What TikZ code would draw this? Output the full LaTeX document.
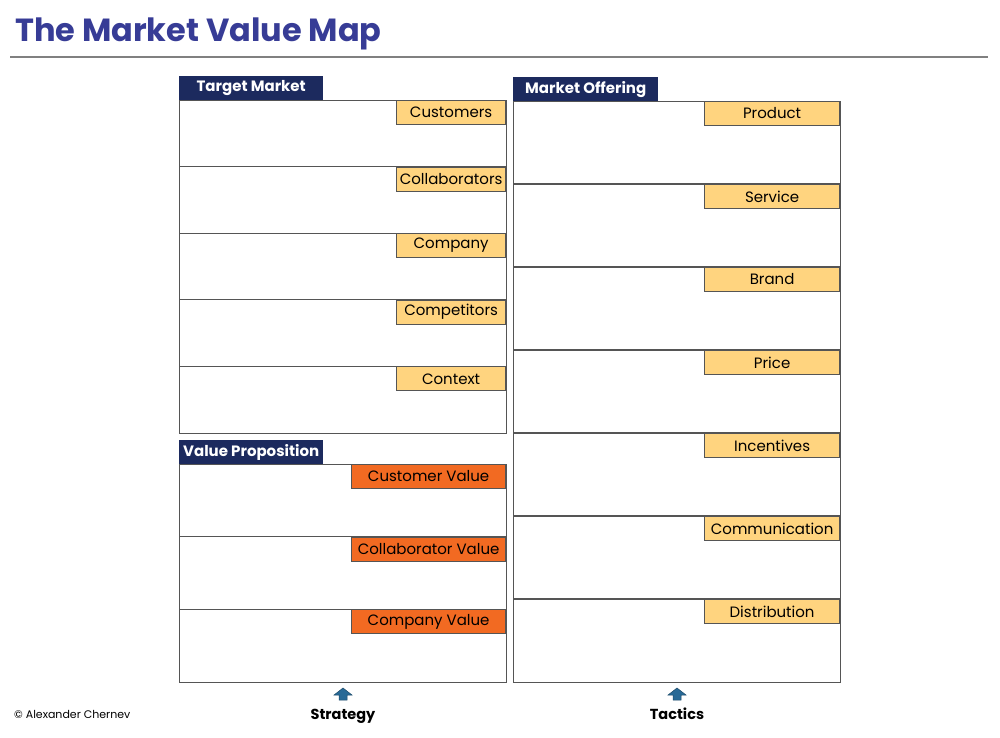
\documentclass[tikz,border=0pt]{standalone}
\usepackage{fontspec}
\setmainfont{Poppins}
\usetikzlibrary{positioning}

\definecolor{titleblue}{RGB}{55,60,150}
\definecolor{navy}{RGB}{28,42,94}
\definecolor{tagyellow}{RGB}{255,212,127}
\definecolor{tagorange}{RGB}{242,106,34}
\definecolor{arrowblue}{RGB}{40,105,150}
\definecolor{framegray}{RGB}{85,85,85}

\tikzset{
  header/.style={fill=navy, text=white, anchor=north west, inner sep=0pt,
    minimum width=144pt, minimum height=24pt, font=\bfseries\fontsize{15}{15}\selectfont},
  panel/.style={draw=framegray, line width=1.1pt, anchor=north west, inner sep=0pt},
  tag/.style={draw=framegray, line width=0.8pt, anchor=north east, inner sep=0pt,
    minimum height=24pt, font=\fontsize{15}{15}\selectfont},
  foot/.style={font=\bfseries\fontsize{14.5}{14.5}\selectfont, anchor=base},
}

\begin{document}
\begin{tikzpicture}[x=1pt,y=-1pt]
      \useasboundingbox (0,0) rectangle (1000,737);
      \pgfmathsetmacro{\tmrow}{333/5}
      \pgfmathsetmacro{\vprow}{218/3}
      \pgfmathsetmacro{\morow}{581/7}
      % Title and rule
      \node[anchor=base west, inner sep=0pt, text=titleblue,
        font=\bfseries\fontsize{32}{32}\selectfont] (title) at (15,41) {The Market Value Map};
      \draw[gray, line width=1.3pt] (10,57) -- (988,57);
      % Target market
      \node[header] (tmhead) at (179,76) {Target Market};
      \node[panel, minimum width=327pt, minimum height=333pt] (tm) at (179,100) {};
      \foreach \i in {1,...,4}
        \draw[framegray, line width=1.1pt] (179,{100+\i*\tmrow}) -- (506,{100+\i*\tmrow});
      \foreach \lbl [count=\i from 0] in {Customers,Collaborators,Company,Competitors,Context}
        \node[tag, fill=tagyellow, minimum width=109pt] (tm\i) at (506,{100+\i*\tmrow}) {\lbl};
      % Value proposition
      \node[header] (vphead) at (179,440) {Value Proposition};
      \node[panel, minimum width=327pt, minimum height=218pt] (vp) at (179,464) {};
      \foreach \i in {1,2}
        \draw[framegray, line width=1.1pt] (179,{464+\i*\vprow}) -- (506,{464+\i*\vprow});
      \foreach \lbl [count=\i from 0] in {Customer Value,Collaborator Value,Company Value}
        \node[tag, fill=tagorange, minimum width=154pt] (vp\i) at (506,{464+\i*\vprow}) {\lbl};
      % Market offering
      \node[header, minimum width=145pt] (mohead) at (513,77) {Market Offering};
      \node[panel, minimum width=327pt, minimum height=581pt] (mo) at (513,101) {};
      \foreach \i in {1,...,6}
        \draw[framegray, line width=1.1pt] (513,{101+\i*\morow}) -- (840,{101+\i*\morow});
      \foreach \lbl [count=\i from 0] in {Product,Service,Brand,Price,Incentives,Communication,Distribution}
        \node[tag, fill=tagyellow, minimum width=135pt] (mo\i) at (840,{101+\i*\morow}) {\lbl};
      % Strategy and tactics
      \node[foot] (strat) at (343,719) {Strategy};
      \node[foot] (tact) at (677,719) {Tactics};
      \foreach \ax in {343,677}
        \filldraw[fill=arrowblue, draw=arrowblue!70!black, line width=0.5pt]
          (\ax,688) -- (\ax+9,695) -- (\ax+4,695) -- (\ax+4,700) -- (\ax-4,700)
          -- (\ax-4,695) -- (\ax-9,695) -- cycle;
      % Credit
      \node[anchor=base west, inner sep=0pt, font=\fontsize{11}{11}\selectfont] (credit) at (14,718) {© Alexander Chernev};
\end{tikzpicture}
\end{document}
